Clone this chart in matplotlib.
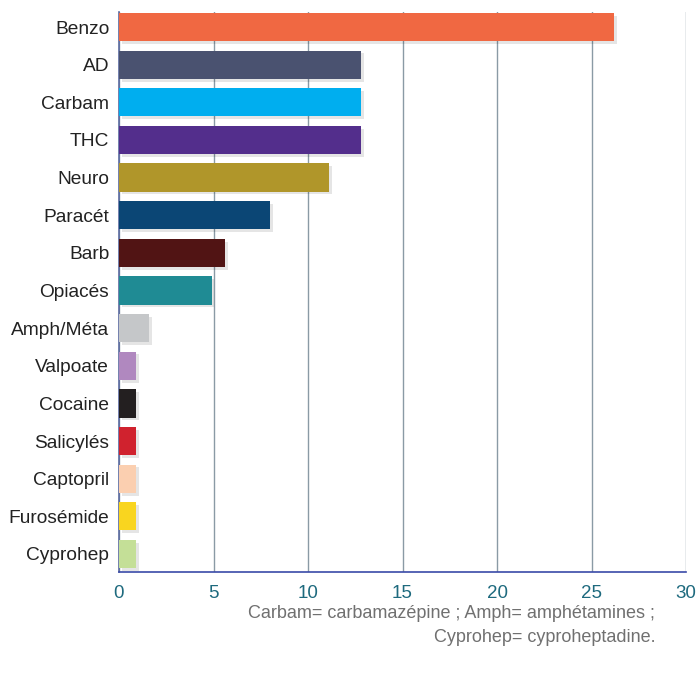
#!/usr/bin/env python3
"""Horizontal bar chart of substances detected (percent)."""

import matplotlib

matplotlib.use("Agg")

import matplotlib.pyplot as plt
import matplotlib.patheffects as pe
import numpy as np

plt.rcParams["font.family"] = ["Liberation Sans", "DejaVu Sans"]

labels = ["Benzo", "AD", "Carbam", "THC", "Neuro", "Paracét", "Barb", "Opiacés",
          "Amph/Méta", "Valpoate", "Cocaine", "Salicylés", "Captopril", "Furosémide", "Cyprohep"]
values = [26.2, 12.8, 12.8, 12.8, 11.1, 8.0, 5.6, 4.9, 1.6, 0.9, 0.9, 0.9, 0.9, 0.9, 0.9]
colors = ["#F06842", "#4A5270", "#00AEEF", "#532E8C", "#B0962A", "#0B4675", "#511414", "#1F8B94",
          "#C5C7C9", "#B088BF", "#231F20", "#D0222E", "#FBCFB0", "#F9D51F", "#C4DF97"]
xticks = [0, 5, 10, 15, 20, 25, 30]
note = "Carbam= carbamazépine ; Amph= amphétamines ;\nCyprohep= cyproheptadine."

fig = plt.figure(figsize=(6.98, 6.75), dpi=100)
ax = fig.add_axes([119 / 698, 1 - 572 / 675, (686 - 119) / 698, (572 - 12) / 675])

y = np.arange(len(labels))
bars = ax.barh(y, values, height=0.75, color=colors, zorder=3)
for b in bars:
    b.set_path_effects([pe.SimplePatchShadow(offset=(2, -2), alpha=0.10, shadow_rgbFace="black"),
                        pe.Normal()])

ax.set_ylim(14.48, -0.4)
ax.set_xlim(0, 30)
ax.set_xticks(xticks)
ax.set_yticks(y)
ax.set_yticklabels(labels, fontsize=13.8, color="#222222")
ax.tick_params(axis="x", length=0, pad=9, labelsize=13.5, labelcolor="#1E6A7E")
ax.tick_params(axis="y", length=0, pad=7)

ax.grid(axis="x", color="#8A9AA5", linewidth=1.0, zorder=0)
ax.set_axisbelow(True)
for side in ("top", "right"):
    ax.spines[side].set_visible(False)
ax.spines["left"].set_color("#5A6AA0")
ax.spines["bottom"].set_color("#3A4AA8")
ax.spines["left"].set_linewidth(1.2)
ax.spines["bottom"].set_linewidth(1.2)

fig.text(655 / 698, 1 - 605 / 675, note, ha="right", va="top", fontsize=13,
         color="#707070", linespacing=1.55)

fig.savefig("out.png", dpi=100)
plt.close(fig)
